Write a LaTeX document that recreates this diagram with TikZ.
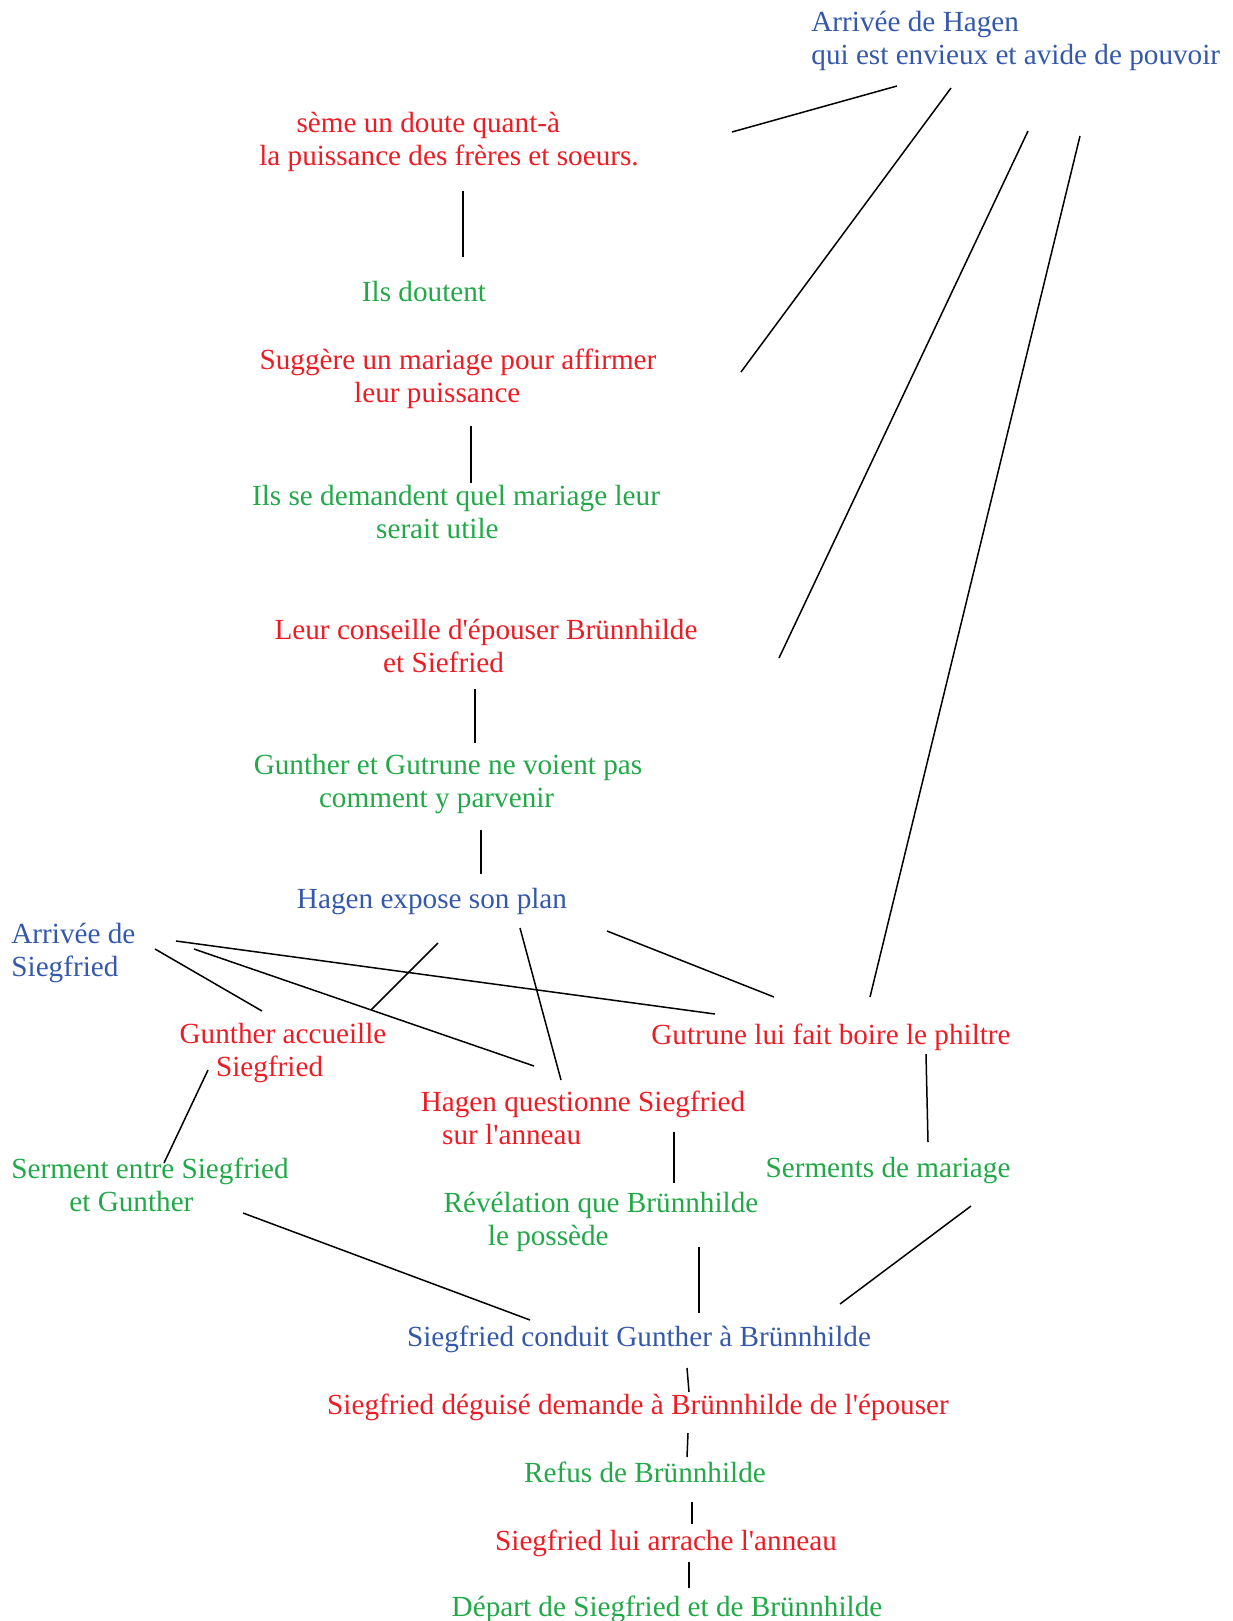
\documentclass[tikz,border=0pt]{standalone}
\usepackage{fontspec}
\setmainfont{Liberation Serif}[Ligatures=TeXOff]
\definecolor{bleu}{RGB}{52,88,170}
\definecolor{rouge}{RGB}{237,28,36}
\definecolor{vert}{RGB}{34,168,72}

\begin{document}
\begin{tikzpicture}[x=0.5pt, y=-0.5pt,
    txt/.style={inner sep=0pt, align=center, font=\fontsize{14.6}{16.5}\selectfont},
    trait/.style={line width=0.75pt, black}]

  \useasboundingbox (0,0) rectangle (1232,1621);

  %textes a gauche
  \node[txt, bleu, anchor=west, align=left] (hagen) at (811,41) {Arrivée de Hagen\\qui est envieux et avide de pouvoir};
  \node[txt, bleu, anchor=west, align=left] (arrivee) at (11,953) {Arrivée de\\Siegfried};

  %textes centres
  \foreach \name/\x/\y/\col/\txt in {
      doute/449/142/rouge/{sème un doute quant-à\hspace*{20.7pt}\\la puissance des frères et soeurs.},
      doutent/424/292/vert/{Ils doutent},
      mariage/458/379/rouge/{Suggère un mariage pour affirmer\\leur puissance\hspace*{20.7pt}},
      utile/456/512/vert/{Ils se demandent quel mariage leur\\serait utile\hspace*{18.6pt}},
      conseille/486/646/rouge/{Leur conseille d'épouser Brünnhilde\\et Siefried\hspace*{42.4pt}},
      parvenir/448/784/vert/{Gunther et Gutrune ne voient pas\\comment y parvenir\hspace*{11.4pt}},
      plan/432/902/bleu/{Hagen expose son plan},
      accueille/283/1053/rouge/{Gunther accueille\\Siegfried\hspace*{13.4pt}},
      philtre/831/1037/rouge/{Gutrune lui fait boire le philtre},
      questionne/583/1118/rouge/{Hagen questionne Siegfried\\sur l'anneau\hspace*{71.3pt}},
      serment/150/1185/vert/{Serment entre Siegfried\\et Gunther\hspace*{18.6pt}},
      revelation/601/1222/vert/{Révélation que Brünnhilde\\le possède\hspace*{52.7pt}},
      serments/888/1171/vert/{Serments de mariage},
      conduit/639/1339/bleu/{Siegfried conduit Gunther à Brünnhilde},
      deguise/638/1407/rouge/{Siegfried déguisé demande à Brünnhilde de l'épouser},
      refus/645/1472/vert/{Refus de Brünnhilde},
      arrache/666/1543/rouge/{Siegfried lui arrache l'anneau},
      depart/667/1609/vert/{Départ de Siegfried et de Brünnhilde}}{
    \node[txt, text=\col] (\name) at (\x,\y) {\txt};
  }

  %bouts des traits
  \foreach \name/\x/\y in {
      ha/897/86, hb/951/88, hc/1028/131, hd/1080/136,
      da/732/132, db/463/191, dc/463/257,
      ma/741/372, mb/471/426, ua/471/483,
      ca/779/658, cb/475/689, pa/475/743, pb/481/830, la/481/874,
      lb/438/943, lc/520/928, ld/607/931,
      aa/176/941, ab/194/949, ac/155/949,
      ga/371/1010, gb/262/1011, gc/208/1070,
      fa/715/1014, fb/774/997, fc/870/997, fd/926/1054,
      qa/534/1066, qb/561/1080, qc/674/1132,
      sa/164/1163, sb/243/1213,
      ra/674/1183, rb/699/1247,
      ma2/928/1142, mb2/971/1206,
      ka/530/1320, kb/699/1313, kc/840/1304, kd/687/1368,
      ea/689/1392, eb/688/1433, fa2/687/1457, fb2/692/1502,
      xa/692/1524, xb/689/1562, ya/689/1588}{
    \coordinate (\name) at (\x,\y);
  }

  %traits
  \foreach \a/\b in {ha/da, hb/ma, hc/ca, hd/fc,
      db/dc, mb/ua, cb/pa, pb/la,
      lb/ga, lc/qb, ld/fb,
      aa/fa, ab/qa, ac/gb, gc/sa,
      fd/ma2, qc/ra, sb/ka, rb/kb, mb2/kc,
      kd/ea, eb/fa2, fb2/xa, xb/ya}{
    \draw[trait] (\a) -- (\b);
  }

\end{tikzpicture}
\end{document}
